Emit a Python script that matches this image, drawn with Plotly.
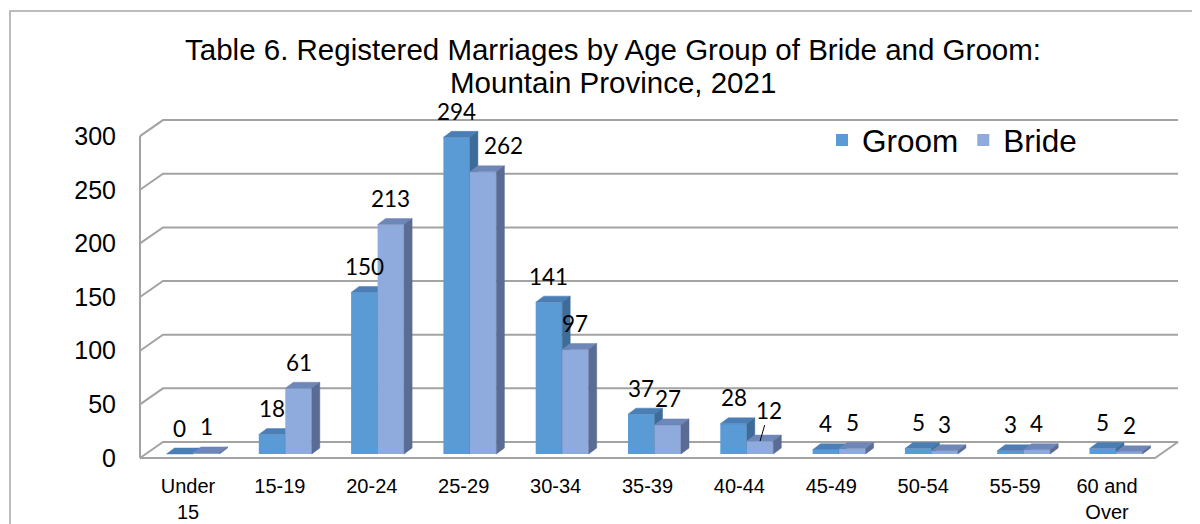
import plotly.graph_objects as go

# ---------------- data ----------------
categories = ["Under 15", "15-19", "20-24", "25-29", "30-34", "35-39",
              "40-44", "45-49", "50-54", "55-59", "60 and Over"]
tick_labels = ["Under<br>15", "15-19", "20-24", "25-29", "30-34", "35-39",
               "40-44", "45-49", "50-54", "55-59", "60 and<br>Over"]
groom = [0, 18, 150, 294, 141, 37, 28, 4, 5, 3, 5]
bride = [1, 61, 213, 262, 97, 27, 12, 5, 3, 4, 2]
y_ticks = [0, 50, 100, 150, 200, 250, 300]
title_lines = ["Table 6. Registered Marriages by Age Group of Bride and Groom:",
               "Mountain Province, 2021"]

# ---------------- geometry / style (page pixel coordinates) ----------------
W, H = 1200, 524
OFF = 8                      # default page margin of the html body
PL, PR, PT, PB = 130, 1185, 95, 469   # plot area on the page
ML, MR, MT, MB = PL - OFF, W - (PR - OFF), PT - OFF, H - (PB - OFF)

BX0, BSX = 193.0, 92.3      # bar plane: pixel of category 0, px per category
BY0, BSY = 454.0, 1.077     # bar plane: pixel of value 0, px per unit
FX0, FSX = 188.0, 91.9      # front plane (axis labels, walls)
FY0, FSY = 458.0, 1.073
WALL_L, WALL_R = 140.0, 1155.0
DEPTH_X, DEPTH_Y = 23.0, -16.0
BAR_W = 26.5 / BSX
BAR_DX, BAR_DY = 8.0 / BSX, 6.0 / BSY

GRID = "#A3A3A3"
C_GROOM, C_GROOM_TOP, C_GROOM_SIDE = "#5B9BD5", "#4A7EB5", "#3D6C98"
C_BRIDE, C_BRIDE_TOP, C_BRIDE_SIDE = "#8FAADC", "#6E87B8", "#5A6B94"
FONT = "Liberation Sans, Arial, sans-serif"
LABEL_FONT = "Lato, Liberation Sans, sans-serif"


def pxx(px):
    return (px - PL) / (PR - PL)


def pxy(py):
    return (PB - py) / (PB - PT)


xs = list(range(len(categories)))

# wall geometry in front-plane data units
dx_back = DEPTH_X / FSX
dv_back = -DEPTH_Y / FSY
xl = (WALL_L - FX0) / FSX
xr = (WALL_R - FX0) / FSX
vmax = max(y_ticks)


def faces(vals, off):
    tx, ty, sx, sy = [], [], [], []
    for i, v in zip(xs, vals):
        x0 = i + off
        x1 = x0 + BAR_W
        tx += [x0, x1, x1 + BAR_DX, x0 + BAR_DX, x0, None]
        ty += [v, v, v + BAR_DY, v + BAR_DY, v, None]
        sx += [x1, x1 + BAR_DX, x1 + BAR_DX, x1, x1, None]
        sy += [0, BAR_DY, v + BAR_DY, v, 0, None]
    return tx, ty, sx, sy


fig = go.Figure()

# walls and gridlines (front-plane axes)
gx = [xl, xl + dx_back, xr + dx_back, xr, xl, None, xl, xl, None]
gy = [0, dv_back, dv_back, 0, 0, None, 0, vmax, None]
for v in y_ticks[1:]:
    gx += [xl, xl + dx_back, xr + dx_back, None]
    gy += [v, v + dv_back, v + dv_back, None]
fig.add_trace(go.Scatter(x=gx, y=gy, mode="lines", line=dict(color=GRID, width=2),
                         showlegend=False, hoverinfo="skip", name="grid"))

series = [("Groom", groom, -BAR_W, C_GROOM, C_GROOM_TOP, C_GROOM_SIDE, 0),
          ("Bride", bride, 0.0, C_BRIDE, C_BRIDE_TOP, C_BRIDE_SIDE, 2)]
for name, vals, off, cf, ct, cs, z in series:
    fig.add_trace(go.Bar(x=xs, y=vals, width=BAR_W, offset=off, name=name,
                         xaxis="x2", yaxis="y2",
                         marker=dict(color=cf, line=dict(width=0)),
                         customdata=categories,
                         hovertemplate="%{customdata}: %{y}<extra>" + name + "</extra>",
                         zorder=z))
    tx, ty, sx, sy = faces(vals, off)
    fig.add_trace(go.Scatter(x=tx, y=ty, fill="toself", mode="lines",
                             xaxis="x2", yaxis="y2",
                             line=dict(color=ct, width=0.5), fillcolor=ct,
                             showlegend=False, hoverinfo="skip", zorder=z + 1))
    fig.add_trace(go.Scatter(x=sx, y=sy, fill="toself", mode="lines",
                             xaxis="x2", yaxis="y2",
                             line=dict(color=cs, width=0.5), fillcolor=cs,
                             showlegend=False, hoverinfo="skip", zorder=z + 1))

# outer frame
shapes = [dict(type="rect", xref="paper", yref="paper",
               x0=pxx(10), x1=pxx(1225), y0=pxy(11), y1=pxy(560),
               line=dict(color="#A6A6A6", width=1.5), layer="below")]

# ---------------- data labels ----------------
annotations = []
nudges = {("Bride", 3): 20}
for name, vals, off, *_ in series:
    for i, v in zip(xs, vals):
        xc = i + off + BAR_W / 2
        if name == "Bride" and v == 12:
            annotations.append(dict(x=xc, y=v, xref="x2", yref="y2", text=str(v),
                                    showarrow=True, arrowhead=0, arrowwidth=1,
                                    arrowcolor="black", ax=9, ay=-31,
                                    font=dict(family=LABEL_FONT, size=22.5, color="black")))
            continue
        annotations.append(dict(x=xc, y=v, xref="x2", yref="y2", text=str(v),
                                showarrow=False, yanchor="middle", yshift=26,
                                xshift=nudges.get((name, i), 0),
                                font=dict(family=LABEL_FONT, size=22.5, color="black")))

# second title line
annotations.append(dict(x=pxx(613), y=pxy(82), xref="paper", yref="paper",
                        text=title_lines[1], showarrow=False, xanchor="center",
                        yanchor="middle",
                        font=dict(family=FONT, size=29.5, color="black")))

fig.update_layout(
    width=W, height=H,
    margin=dict(l=ML, r=MR, t=MT, b=MB, autoexpand=False),
    paper_bgcolor="white", plot_bgcolor="rgba(0,0,0,0)",
    barmode="overlay",
    title=dict(text=title_lines[0], xref="container", x=(613 - OFF) / W,
               xanchor="center", yref="container", y=1 - (50 - OFF) / H, yanchor="middle",
               font=dict(family=FONT, size=29.5, color="black"), automargin=False),
    xaxis=dict(range=[(PL - FX0) / FSX, (PR - FX0) / FSX],
               tickvals=xs, ticktext=tick_labels, showgrid=False, zeroline=False,
               showline=False, ticks="", ticklabelstandoff=3, fixedrange=True,
               automargin=False,
               tickfont=dict(family=FONT, size=20, color="black")),
    yaxis=dict(range=[(FY0 - PB) / FSY, (FY0 - PT) / FSY],
               tickvals=y_ticks, showgrid=False, zeroline=False, showline=False,
               ticks="", ticklabelstandoff=13, fixedrange=True, automargin=False,
               tickfont=dict(family=FONT, size=25, color="black")),
    xaxis2=dict(overlaying="x", anchor="y2", range=[(PL - BX0) / BSX, (PR - BX0) / BSX],
                showgrid=False, zeroline=False, showticklabels=False, showline=False,
                fixedrange=True, automargin=False),
    yaxis2=dict(overlaying="y", anchor="x2", range=[(BY0 - PB) / BSY, (BY0 - PT) / BSY],
                showgrid=False, zeroline=False, showticklabels=False, showline=False,
                fixedrange=True, automargin=False),
    legend=dict(orientation="h", x=pxx(822), xanchor="left", y=pxy(140), yanchor="middle",
                font=dict(family=FONT, size=31.5, color="black"),
                bgcolor="rgba(0,0,0,0)", traceorder="normal"),
    shapes=shapes,
    annotations=annotations,
    showlegend=True,
)

fig.write_html("out.html")
